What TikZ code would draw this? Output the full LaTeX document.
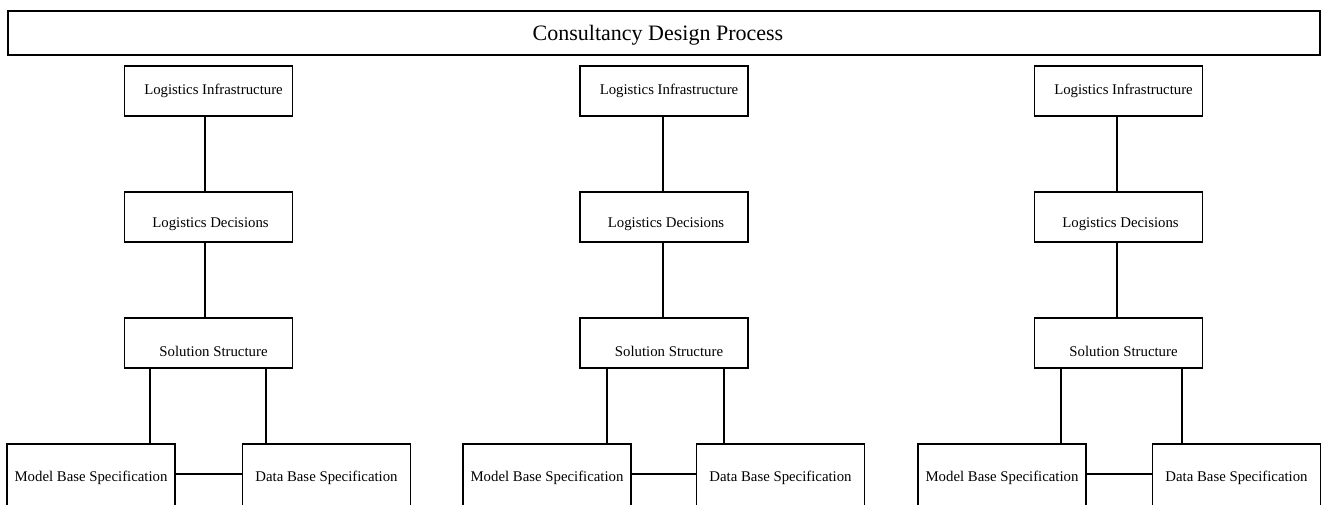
\documentclass[tikz,border=0pt]{standalone}
\usepackage{fontspec}
\setmainfont{Liberation Serif}
\tikzset{
  frame/.style={draw, line width=1.3pt, rectangle, inner sep=0pt},
  upperbox/.style={frame, minimum width=168pt, minimum height=50pt},
  lowerbox/.style={frame, minimum width=168pt, minimum height=66pt},
  boxtext/.style={font=\fontsize{14.8}{17}\selectfont},
  link/.style={line width=1.3pt},
}
% one column: #1 suffix, #2 centre of the upper boxes, #3 model box centre,
% #4 data box centre, #5 x of the vertical links, #6/#7 x of the two legs
\newcommand\designcolumn[7]{%
  \node[upperbox, label={[boxtext, xshift=5pt]center:Logistics Infrastructure}] (li#1) at (#2,91) {};
  \node[upperbox, label={[boxtext, xshift=2pt, yshift=-7pt]center:Logistics Decisions}] (ld#1) at (#2,217) {};
  \node[upperbox, label={[boxtext, xshift=5pt, yshift=-8pt]center:Solution Structure}] (ss#1) at (#2,343) {};
  \node[lowerbox, label={[boxtext, yshift=-1pt]center:Model Base Specification}] (mb#1) at (#3,477) {};
  \node[lowerbox, label={[boxtext, yshift=-1pt]center:Data Base Specification}] (db#1) at (#4,477) {};
  \draw[link] (li#1.south -| #5,0) -- (ld#1.north -| #5,0);
  \draw[link] (ld#1.south -| #5,0) -- (ss#1.north -| #5,0);
  \draw[link] (ss#1.south -| #6,0) -- (mb#1.north -| #6,0);
  \draw[link] (ss#1.south -| #7,0) -- (db#1.north -| #7,0);
  \draw[link] (mb#1.east |- 0,474) -- (db#1.west |- 0,474);
}
\begin{document}
\begin{tikzpicture}[x=1pt, y=-1pt]
  \useasboundingbox (0,0) rectangle (1321,504);
  \node[frame, minimum width=1312pt, minimum height=44pt,
        label={[font=\fontsize{22}{26}\selectfont, xshift=-6pt, yshift=-2pt]center:Consultancy Design Process}]
        (title) at (664,33) {};
  \designcolumn{a}{208.5}{91}{326.5}{205}{150}{266}
  \designcolumn{b}{664}{547}{780.5}{663}{607}{724}
  \designcolumn{c}{1118.5}{1002}{1236.5}{1117}{1061}{1182}
\end{tikzpicture}
\end{document}
